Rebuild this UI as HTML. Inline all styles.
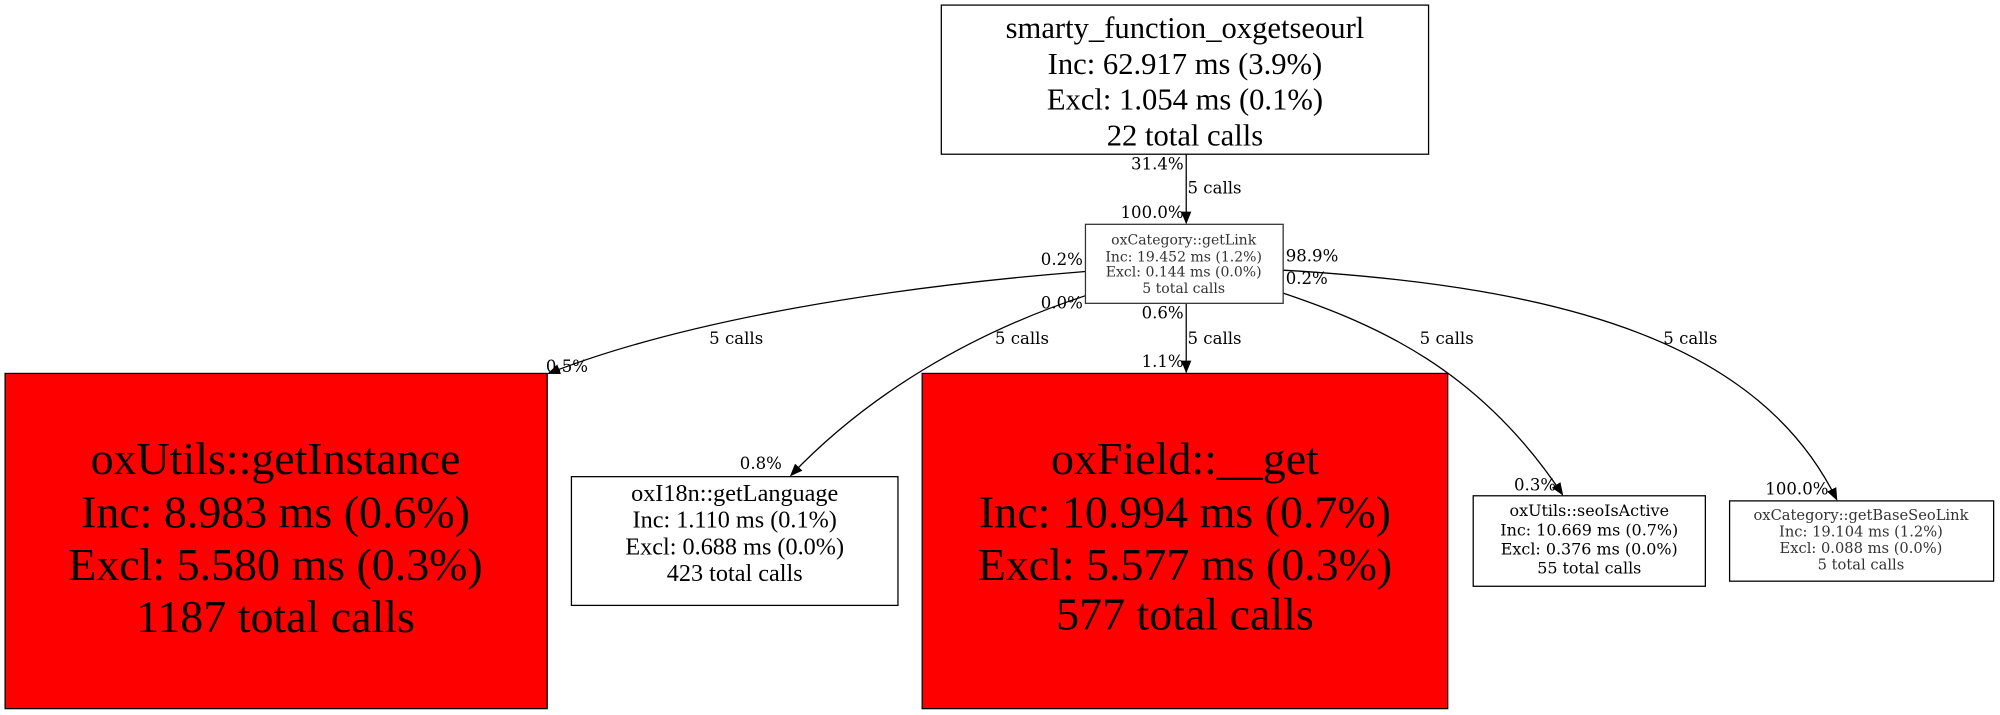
<!DOCTYPE html>
<html><head><meta charset="utf-8"><style>
html,body{margin:0;padding:0;background:#fff;}
svg{display:block;}
.t{font-family:"Liberation Serif",serif;}
.d{font-family:"DejaVu Serif","Liberation Serif",serif;}
</style></head><body>
<svg width="2000" height="715" viewBox="0 0 1568 561" preserveAspectRatio="none" xmlns="http://www.w3.org/2000/svg">
<defs><marker id="a" markerWidth="10" markerHeight="10" refX="9" refY="5" orient="auto" markerUnits="userSpaceOnUse"><path d="M0,1 L10,5 L0,9 z" fill="#000"/></marker></defs>
<rect width="1568" height="561" fill="#fff"/>
<g fill="none" stroke="#000" stroke-width="1">
<path d="M930,121 L930,175" marker-end="url(#a)"/>
<path d="M851,213 C700,225 540,250 430,293" marker-end="url(#a)"/>
<path d="M851,232 C760,262 680,310 620,373" marker-end="url(#a)"/>
<path d="M930,238 L930,292" marker-end="url(#a)"/>
<path d="M1006,230 C1080,255 1160,290 1225,388" marker-end="url(#a)"/>
<path d="M1006,212 C1230,225 1380,270 1440,392" marker-end="url(#a)"/>
</g>
<rect x="738" y="4" width="382" height="117" fill="#fff" stroke="#000"/>
<g class="t" font-size="24" text-anchor="middle" fill="#000">
<text x="929" y="30">smarty_function_oxgetseourl</text>
<text x="929" y="58">Inc: 62.917 ms (3.9%)</text>
<text x="929" y="86">Excl: 1.054 ms (0.1%)</text>
<text x="929" y="114">22 total calls</text>
</g>
<rect x="851" y="176" width="155" height="62" fill="#fff" stroke="#333"/>
<g class="d" font-size="11" text-anchor="middle" fill="#333">
<text x="928" y="192">oxCategory::getLink</text>
<text x="928" y="205">Inc: 19.452 ms (1.2%)</text>
<text x="928" y="217">Excl: 0.144 ms (0.0%)</text>
<text x="928" y="230">5 total calls</text>
</g>
<g class="d" font-size="13" fill="#000">
<text x="928" y="133" text-anchor="end">31.4%</text>
<text x="931" y="152">5 calls</text>
<text x="928" y="171" text-anchor="end">100.0%</text>
<text x="849" y="208" text-anchor="end">0.2%</text>
<text x="1008" y="205">98.9%</text>
<text x="1008" y="223">0.2%</text>
<text x="849" y="242" text-anchor="end">0.0%</text>
<text x="928" y="250" text-anchor="end">0.6%</text>
<text x="556" y="270">5 calls</text>
<text x="780" y="270">5 calls</text>
<text x="931" y="270">5 calls</text>
<text x="1113" y="270">5 calls</text>
<text x="1304" y="270">5 calls</text>
<text x="428" y="292">0.5%</text>
<text x="928" y="288" text-anchor="end">1.1%</text>
<text x="580" y="368">0.8%</text>
<text x="1187" y="385">0.3%</text>
<text x="1384" y="388">100.0%</text>
</g>
<rect x="4" y="293" width="425" height="263" fill="#ff0000" stroke="#000"/>
<g class="t" font-size="36" text-anchor="middle" fill="#000">
<text x="216" y="372">oxUtils::getInstance</text>
<text x="216" y="414">Inc: 8.983 ms (0.6%)</text>
<text x="216" y="455">Excl: 5.580 ms (0.3%)</text>
<text x="216" y="496">1187 total calls</text>
</g>
<rect x="448" y="374" width="256" height="101" fill="#fff" stroke="#000"/>
<g class="t" font-size="19" text-anchor="middle" fill="#000">
<text x="576" y="393">oxI18n::getLanguage</text>
<text x="576" y="414">Inc: 1.110 ms (0.1%)</text>
<text x="576" y="435">Excl: 0.688 ms (0.0%)</text>
<text x="576" y="456">423 total calls</text>
</g>
<rect x="723" y="293" width="412" height="263" fill="#ff0000" stroke="#000"/>
<g class="t" font-size="36" text-anchor="middle" fill="#000">
<text x="929" y="372">oxField::__get</text>
<text x="929" y="414">Inc: 10.994 ms (0.7%)</text>
<text x="929" y="455">Excl: 5.577 ms (0.3%)</text>
<text x="929" y="494">577 total calls</text>
</g>
<rect x="1155" y="389" width="182" height="71" fill="#fff" stroke="#000"/>
<g class="d" font-size="12.5" text-anchor="middle" fill="#000">
<text x="1246" y="405">oxUtils::seoIsActive</text>
<text x="1246" y="420">Inc: 10.669 ms (0.7%)</text>
<text x="1246" y="435">Excl: 0.376 ms (0.0%)</text>
<text x="1246" y="450">55 total calls</text>
</g>
<rect x="1356" y="393" width="207" height="63" fill="#fff" stroke="#000"/>
<g class="d" font-size="11.5" text-anchor="middle" fill="#333">
<text x="1459" y="408">oxCategory::getBaseSeoLink</text>
<text x="1459" y="421">Inc: 19.104 ms (1.2%)</text>
<text x="1459" y="434">Excl: 0.088 ms (0.0%)</text>
<text x="1459" y="447">5 total calls</text>
</g>
</svg>
</body></html>
